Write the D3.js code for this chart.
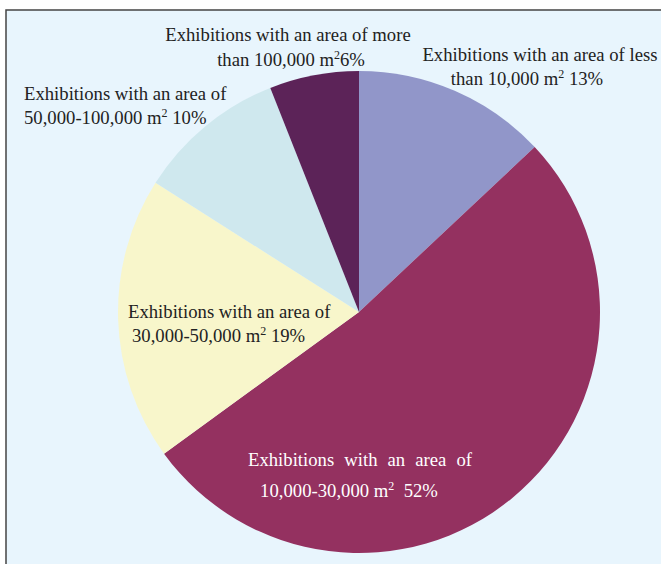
<!DOCTYPE html>
<html>
<head>
<meta charset="utf-8">
<script src="https://cdn.jsdelivr.net/npm/d3@7"></script>
<style>
  body { margin: 0; background: #fff; }
  svg { display: block; }
  text { font-family: "Liberation Serif", "Times New Roman", serif; }
</style>
</head>
<body>
<svg id="chart"></svg>
<script>
// data
var categories = ["less than 10,000", "10,000-30,000", "30,000-50,000", "50,000-100,000", "more than 100,000"];
var shares = [13, 52, 19, 10, 6];
var colors = ["#9196c9", "#943160", "#f8f6cb", "#cfe8ee", "#5c2358"];
var line1 = ["Exhibitions with an area of less", "Exhibitions with an area of", "Exhibitions with an area of", "Exhibitions with an area of", "Exhibitions with an area of more"];
var line2pre = ["than 10,000 m", "10,000-30,000 m", "30,000-50,000 m", "50,000-100,000 m", "than 100,000 m"];
var line2post = [" 13%", "  52%", " 19%", " 10%", "6%"];

var width = 661, height = 564;
var cx = 359, cy = 312, radius = 241;

// label layout (anchor x, baseline y of first line, gap to second line, align)
var labelLayout = [
  {x: 540, y: 61, x2: 527, gap: 24, anchor: "middle", fill: "#222", ws: 0},
  {x: 360, y: 466, x2: 349, gap: 31, anchor: "middle", fill: "#fff", ws: 5.4},
  {x: 128, y: 318, x2: 132, gap: 24, anchor: "start", fill: "#222", ws: 0},
  {x: 24, y: 100, x2: 24, gap: 24, anchor: "start", fill: "#222", ws: 0},
  {x: 288, y: 41, x2: 291, gap: 25, anchor: "middle", fill: "#222", ws: 0}
];

var svg = d3.select("#chart").attr("width", width).attr("height", height);

// frame
svg.append("rect").attr("x", 6).attr("y", 10).attr("width", width + 10).attr("height", height + 10)
  .attr("fill", "#e8f5fd").attr("stroke", "#444").attr("stroke-width", 1.5);

var pie = d3.pie().sort(null).value(function(d) { return d; });
var arc = d3.arc().innerRadius(0).outerRadius(radius);

var g = svg.append("g").attr("transform", "translate(" + cx + "," + cy + ")");
g.selectAll("path").data(pie(shares)).enter().append("path")
  .attr("d", arc)
  .attr("fill", function(d, i) { return colors[i]; });

// labels
var fs = 18.7;
categories.forEach(function(c, i) {
  var L = labelLayout[i];
  svg.append("text")
    .attr("x", L.x).attr("y", L.y)
    .attr("text-anchor", L.anchor)
    .attr("font-size", fs)
    .attr("fill", L.fill)
    .attr("word-spacing", L.ws)
    .text(line1[i]);
  var t2 = svg.append("text")
    .attr("x", L.x2).attr("y", L.y + L.gap)
    .attr("text-anchor", L.anchor)
    .attr("font-size", fs)
    .attr("fill", L.fill)
    .attr("xml:space", "preserve");
  t2.append("tspan").text(line2pre[i]);
  t2.append("tspan").attr("font-size", 12).attr("dy", -7).text("2");
  t2.append("tspan").attr("dy", 7).text(line2post[i]);
});
</script>
</body>
</html>
